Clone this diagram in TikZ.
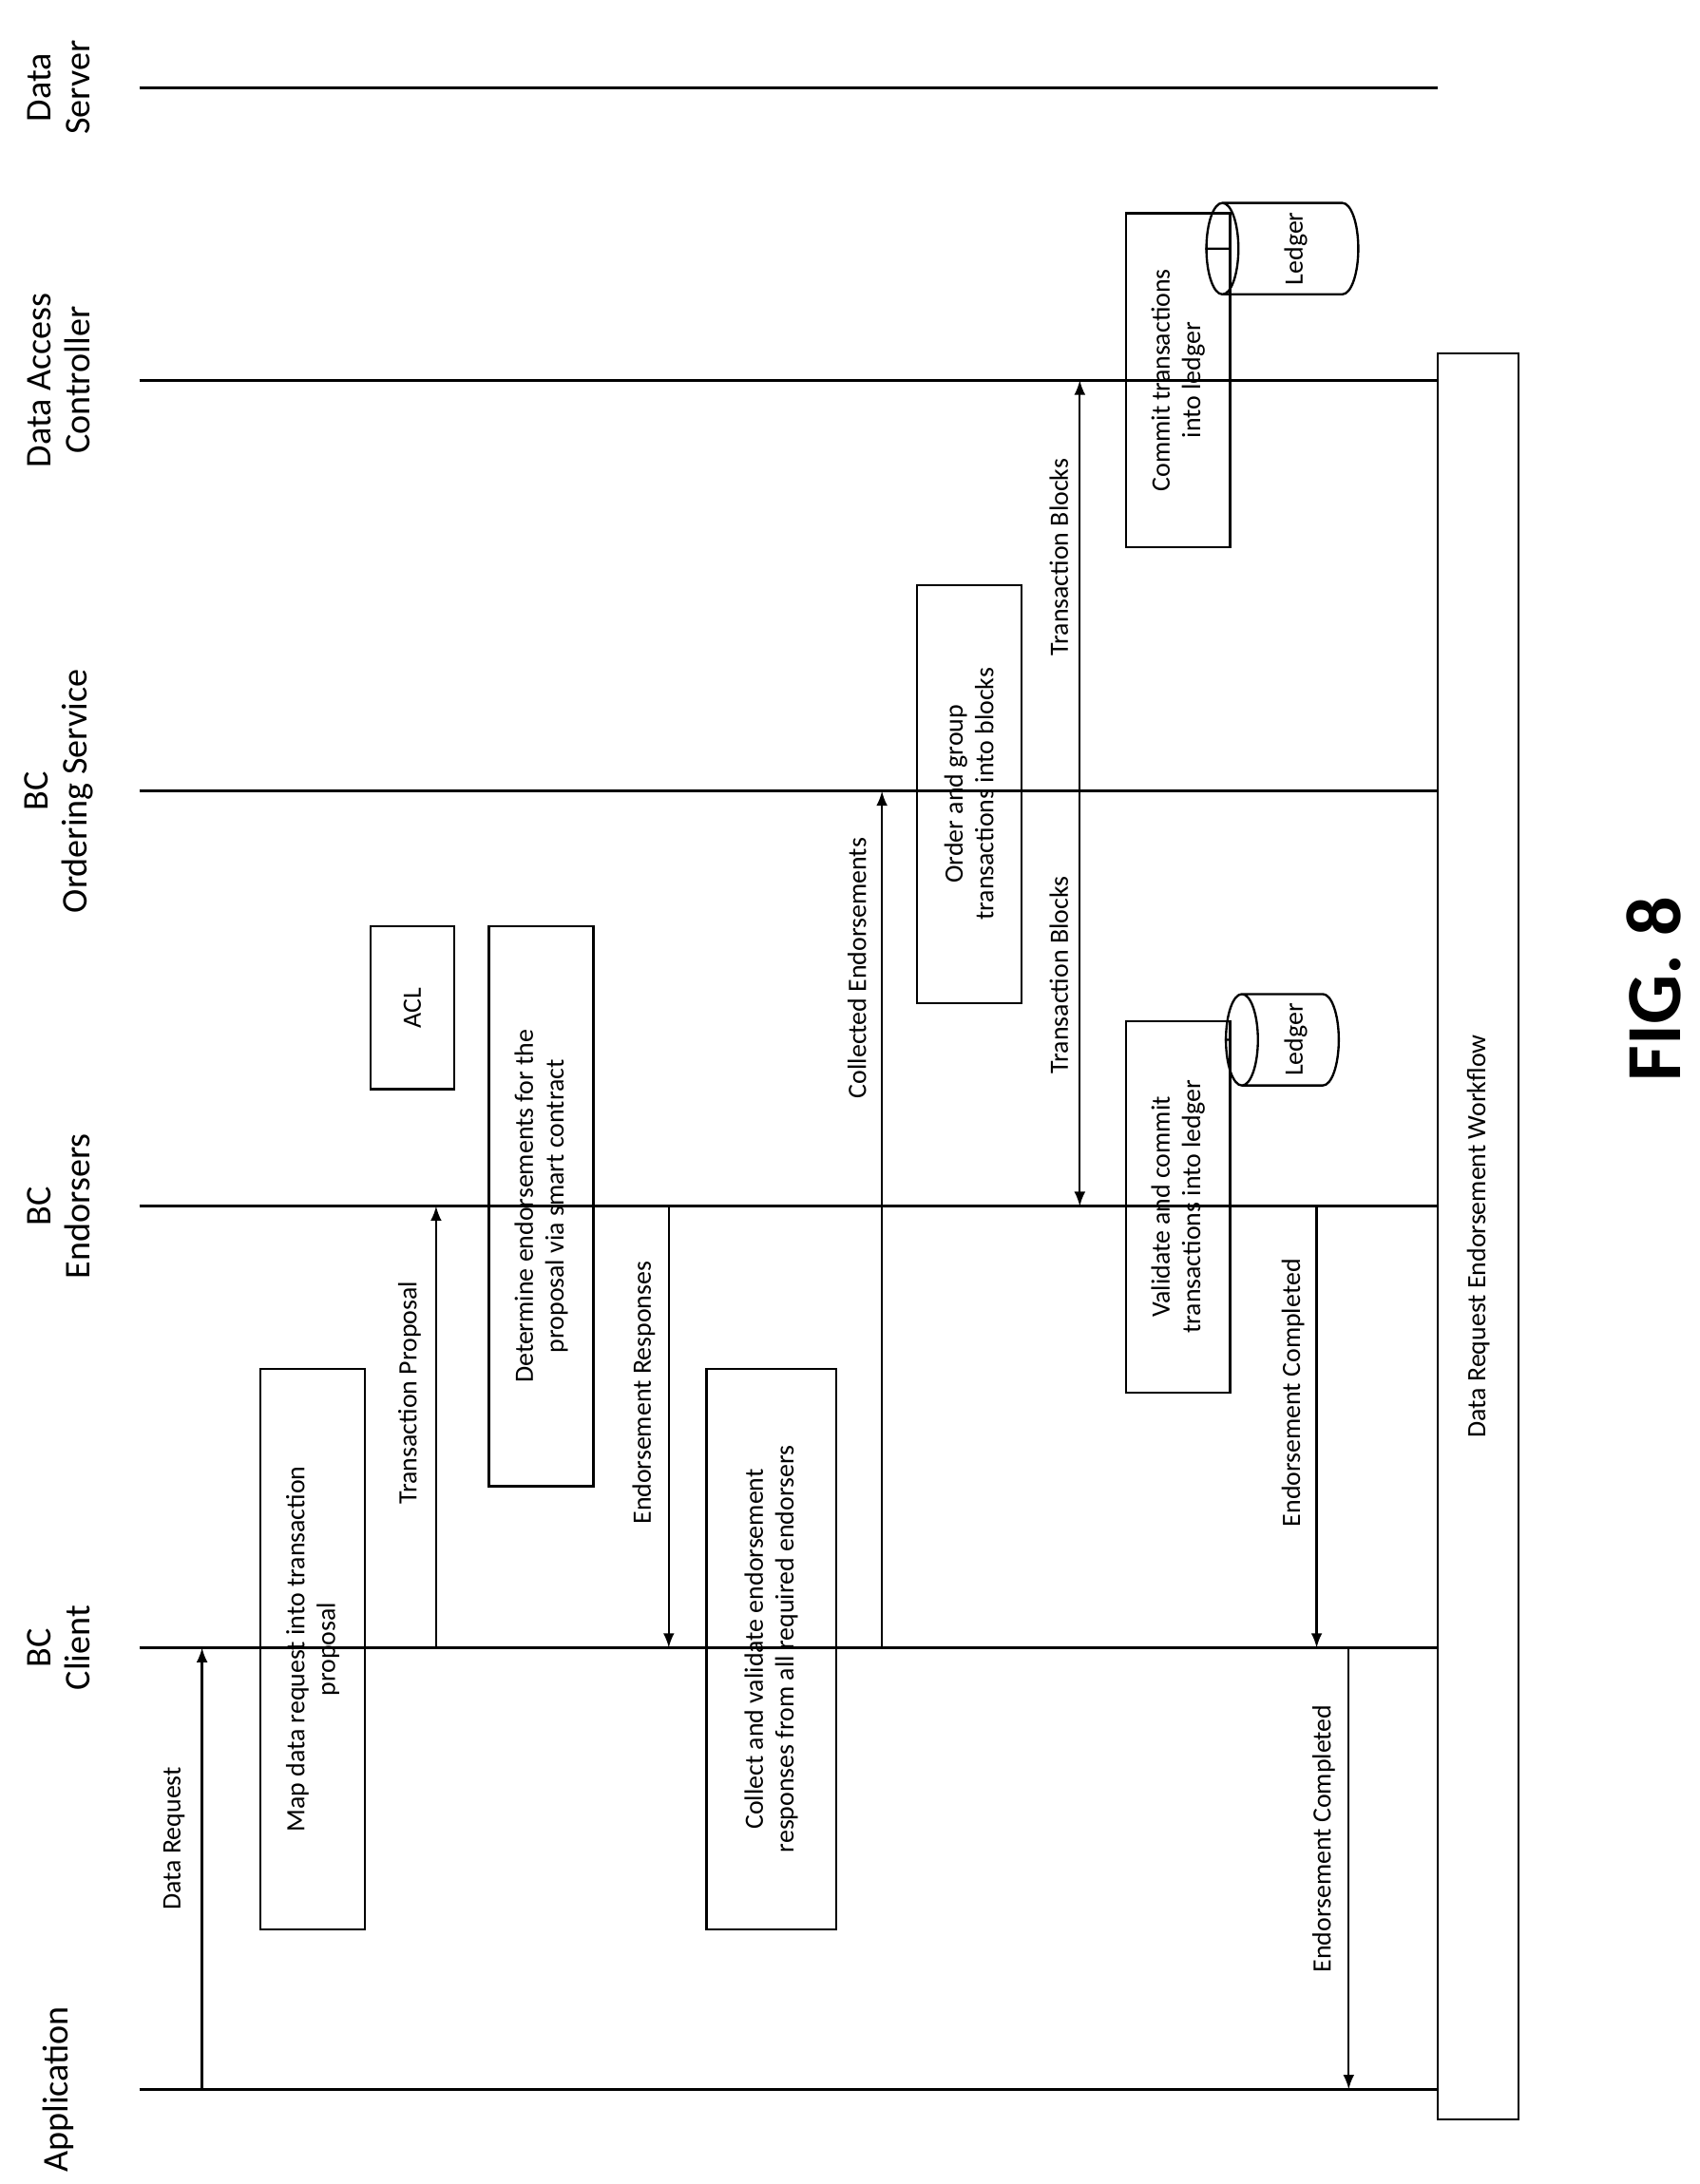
\documentclass[tikz,border=0pt]{standalone}
\usepackage{fontspec}
\setmainfont{Carlito}
\usetikzlibrary{positioning,shapes.geometric}

\begin{document}
\begin{tikzpicture}
    [ x = .5pt, y = -.5pt
    , lane/.style =
      { line width = 1.1pt }
    , title/.style =
      { rotate = 90, align = center, font = \fontsize{13}{14}\selectfont }
    , stepbox/.style =
      { draw, line width = .8pt, rotate = 90, align = center, inner sep = 2pt
      , font = \fontsize{9.5}{11}\selectfont }
    , msg/.style =
      { line width = .8pt, -latex }
    , lbl/.style =
      { rotate = 90, font = \fontsize{9.5}{11}\selectfont }
    , ledger/.style =
      { draw, cylinder, shape border rotate = 90, aspect = .35, line width = .8pt
      , minimum width = 27pt, rotate = 90, font = \fontsize{9.5}{11}\selectfont }
    ]
    \useasboundingbox (0,0) rectangle (1220,1568);

    % lifelines
    \foreach \name/\y/\txt in
      {srv/63/Data\\Server, dac/273/Data Access\\Controller, ord/568/BC\\Ordering Service,
       end/866/BC\\Endorsers/Committers, cli/1183/BC\\Client, app/1500/Application}
    {
      \coordinate (\name-s) at (100,\y);
      \coordinate (\name-e) at (1032,\y);
      \draw [lane] (\name-s) -- (\name-e);
      \node [title] (\name-t) at (42,\y) {\txt};
    }

    \node [stepbox, minimum width = 634pt, minimum height = 29pt] (flow) at (1061,887.5)
      {Data Request Endorsement Workflow};

    % boxes
    \node [stepbox, minimum width = 201pt, minimum height = 37.5pt] (map) at (224.5,1184)
      {Map data request into transaction\\proposal};
    \node [stepbox, minimum width = 201pt, minimum height = 46.5pt] (collect) at (553.5,1184)
      {Collect and validate endorsement\\responses from all required endorsers};
    \node [stepbox, minimum width = 201pt, minimum height = 37.5pt] (determine) at (388.5,866)
      {Determine endorsements for the\\proposal via smart contract};
    \node [stepbox, minimum width = 58.5pt, minimum height = 30pt] (acl) at (296,723.5) {ACL};
    \node [stepbox, minimum width = 150pt, minimum height = 37.5pt] (order) at (695.5,570)
      {Order and group\\transactions into blocks};
    \node [stepbox, minimum width = 133.5pt, minimum height = 37.5pt] (validate) at (845.5,866.5)
      {Validate and commit\\transactions into ledger};
    \node [stepbox, minimum width = 120pt, minimum height = 37.5pt] (commit) at (845.5,273)
      {Commit transactions\\into ledger};
    \node [ledger, minimum height = 40.5pt] (ledger1) at (930,746.5) {Ledger};
    \node [ledger, minimum height = 54.5pt] (ledger2) at (930,178.5) {Ledger};
    \draw [line width = .8pt] (validate.south |- ledger1) -- (ledger1);
    \draw [line width = .8pt] (commit.south |- ledger2) -- (ledger2);

    % messages
    \draw [msg] (145,1500) -- (145,1183);
    \node [lbl] (l1) at (125,1320) {Data Request};
    \draw [msg] (313,1183) -- (313,866);
    \node [lbl] (l2) at (294,1000) {Transaction Proposal};
    \draw [msg] (480,866) -- (480,1183);
    \node [lbl] (l3) at (462,1000) {Endorsement Responses};
    \draw [msg] (633,1183) -- (633,568);
    \node [lbl] (l4) at (615,695) {Collected Endorsements};
    \draw [msg, latex-latex] (775,273) -- (775,866);
    \node [lbl] (l5) at (760,400) {Transaction Blocks};
    \node [lbl] (l6) at (760,700) {Transaction Blocks};
    \draw [msg] (945,866) -- (945,1183);
    \node [lbl] (l7) at (928,1000) {Endorsement Completed};
    \draw [msg] (968,1183) -- (968,1500);
    \node [lbl] (l8) at (950,1320) {Endorsement Completed};

    \node [rotate = 90, font = \fontsize{28}{30}\selectfont\bfseries] (fig) at (1187,710) {FIG. 8};
  \end{tikzpicture}
\end{document}
